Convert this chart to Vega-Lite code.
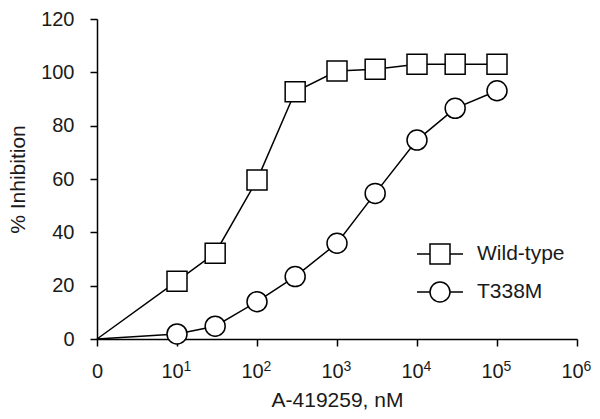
{
  "$schema": "https://vega.github.io/schema/vega-lite/v6.json",
  "width": 480,
  "height": 320,
  "autosize": "none",
  "padding": {"left": 97, "top": 19, "right": 23, "bottom": 80},
  "background": "white",
  "config": {
    "view": {"stroke": null},
    "font": "Liberation Sans",
    "axis": {
      "grid": false,
      "domainColor": "black",
      "domainWidth": 1.5,
      "tickColor": "black",
      "tickWidth": 1.5,
      "tickSize": 7,
      "labelColor": "#1a1a1a",
      "titleColor": "#1a1a1a",
      "labelFontSize": 20,
      "titleFontSize": 21,
      "titleFontWeight": "normal",
      "labelFont": "Liberation Sans",
      "titleFont": "Liberation Sans",
      "labelFlush": false
    }
  },
  "data": {
    "values": [
      {"series": "Wild-type", "conc": 1, "inhibition": 0},
      {"series": "Wild-type", "conc": 10, "inhibition": 21.7},
      {"series": "Wild-type", "conc": 30, "inhibition": 32.2},
      {"series": "Wild-type", "conc": 100, "inhibition": 59.6},
      {"series": "Wild-type", "conc": 300, "inhibition": 92.7},
      {"series": "Wild-type", "conc": 1000, "inhibition": 100.5},
      {"series": "Wild-type", "conc": 3000, "inhibition": 101.2},
      {"series": "Wild-type", "conc": 10000, "inhibition": 103},
      {"series": "Wild-type", "conc": 30000, "inhibition": 103},
      {"series": "Wild-type", "conc": 100000, "inhibition": 103},
      {"series": "T338M", "conc": 1, "inhibition": 0},
      {"series": "T338M", "conc": 10, "inhibition": 1.9},
      {"series": "T338M", "conc": 30, "inhibition": 4.8},
      {"series": "T338M", "conc": 100, "inhibition": 14.0},
      {"series": "T338M", "conc": 300, "inhibition": 23.4},
      {"series": "T338M", "conc": 1000, "inhibition": 35.9},
      {"series": "T338M", "conc": 3000, "inhibition": 54.6},
      {"series": "T338M", "conc": 10000, "inhibition": 74.6},
      {"series": "T338M", "conc": 30000, "inhibition": 86.5},
      {"series": "T338M", "conc": 100000, "inhibition": 93.1}
    ]
  },
  "encoding": {
    "y": {
      "field": "inhibition",
      "type": "quantitative",
      "scale": {"domain": [0, 120], "nice": false},
      "axis": {
        "title": "% Inhibition",
        "values": [0, 20, 40, 60, 80, 100, 120],
        "labelPadding": 16,
        "titlePadding": 12
      }
    }
  },
  "resolve": {"axis": {"x": "independent"}},
  "layer": [
    {
      "mark": {"type": "line", "strokeWidth": 1.5},
      "encoding": {
        "x": {
          "field": "conc",
          "type": "quantitative",
          "scale": {"type": "log", "domain": [1, 1000000], "nice": false},
          "axis": {
            "orient": "bottom",
            "title": "A-419259, nM",
            "values": [1, 10, 100, 1000, 10000, 100000, 1000000],
            "labelExpr": "datum.value == 1 ? '0' : ''",
            "labelPadding": 15,
            "titlePadding": 8
          }
        },
        "color": {
          "field": "series",
          "type": "nominal",
          "scale": {"domain": ["Wild-type", "T338M"], "range": ["black", "black"]},
          "legend": {
            "title": null,
            "orient": "none",
            "legendX": 332,
            "legendY": 224,
            "padding": 0,
            "symbolSize": 400,
            "symbolStrokeWidth": 1.5,
            "rowPadding": 12,
            "labelOffset": 26,
            "labelFontSize": 21,
            "labelFont": "Liberation Sans",
            "labelColor": "#1a1a1a",
            "encode": {
              "symbols": {
                "update": {
                  "shape": {"signal": "datum.value === 'Wild-type' ? 'M-2.3,0H-1M-1,-1H1V1H-1ZM1,0H2.3' : 'M-2.3,0H-1A1,1 0 1,1 1,0A1,1 0 1,1 -1,0M1,0H2.3'"},
                  "fill": {"value": "white"},
                  "stroke": {"value": "black"},
                  "strokeWidth": {"value": 1.5}
                }
              }
            }
          }
        }
      }
    },
    {
      "transform": [{"filter": "datum.conc > 1 && datum.series == 'Wild-type'"}],
      "mark": {"type": "point", "shape": "square", "filled": true, "fill": "white", "stroke": "black", "strokeWidth": 1.5, "size": 400, "opacity": 1},
      "encoding": {
        "x": {
          "field": "conc",
          "type": "quantitative",
          "scale": {"type": "log", "domain": [1, 1000000], "nice": false},
          "axis": {
            "orient": "bottom",
            "title": null,
            "domain": false,
            "tickColor": "transparent",
            "values": [10, 100, 1000, 10000, 100000, 1000000],
            "labelExpr": "'10'",
            "labelOffset": -5,
            "labelPadding": 15
          }
        }
      }
    },
    {
      "transform": [{"filter": "datum.conc > 1 && datum.series == 'T338M'"}],
      "mark": {"type": "point", "shape": "circle", "filled": true, "fill": "white", "stroke": "black", "strokeWidth": 1.5, "size": 400, "opacity": 1},
      "encoding": {
        "x": {
          "field": "conc",
          "type": "quantitative",
          "scale": {"type": "log", "domain": [1, 1000000], "nice": false},
          "axis": {
            "orient": "bottom",
            "title": null,
            "domain": false,
            "tickColor": "transparent",
            "values": [10, 100, 1000, 10000, 100000, 1000000],
            "labelExpr": "format(log(datum.value) / LN10, '.0f')",
            "labelFontSize": 14,
            "labelAlign": "left",
            "labelOffset": 6,
            "labelPadding": 13
          }
        }
      }
    }
  ]
}
